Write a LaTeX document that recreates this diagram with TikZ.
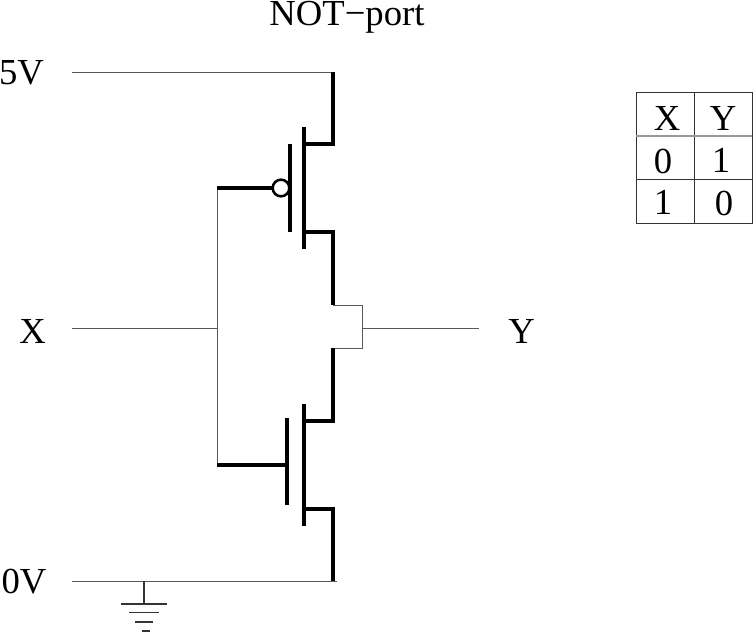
\documentclass[tikz,border=0pt]{standalone}
\usepackage{fontspec}
\setmainfont{Liberation Serif}
\tikzset{
  wire/.style={line width=0.75pt,draw=black!65},
  fet/.style={line width=2.4pt,draw=black,line cap=butt},
  gnd/.style={line width=0.9pt,draw=black!80},
  cell/.style={line width=0.75pt,draw=black!80},
  lbl/.style={inner sep=0pt,anchor=base,font=\fontsize{27.5}{27.5}\selectfont},
  bubble/.style={circle,draw=black,fill=white,line width=1.9pt,minimum size=12.5pt,inner sep=0pt}
}
\begin{document}
\begin{tikzpicture}[x=0.75pt,y=-0.75pt]
\useasboundingbox (0,0) rectangle (753,632);
% labels
\node[lbl] (title) at (347,25) {NOT−port};
\node[lbl] (five) at (21.5,84) {5V};
\node[lbl] (xin) at (32.5,343) {X};
\node[lbl] (yout) at (521.5,343) {Y};
\node[lbl] (zero) at (24,593) {0V};
% junction and terminal points
\coordinate (vddL) at (72,72);
\coordinate (vddR) at (333,72);
\coordinate (gndL) at (72,581);
\coordinate (gndR) at (333,581);
\coordinate (inL) at (72,328);
\coordinate (inJ) at (217,328);
\coordinate (pG) at (217,188);
\coordinate (nG) at (217,465);
\coordinate (pS) at (333,144);
\coordinate (pD) at (333,232);
\coordinate (pDo) at (333,305);
\coordinate (oT) at (362,305);
\coordinate (oB) at (362,348);
\coordinate (oM) at (362,328);
\coordinate (nDo) at (333,348);
\coordinate (nD) at (333,421);
\coordinate (nS) at (333,509);
\coordinate (outR) at (479,328);
\coordinate (pChT) at (304,127);
\coordinate (pChB) at (304,249);
\coordinate (pGT) at (290,144);
\coordinate (pGB) at (290,232);
\coordinate (nChT) at (304,404);
\coordinate (nChB) at (304,526);
\coordinate (nGT) at (287,418);
\coordinate (nGB) at (287,505);
\coordinate (gT) at (144,581);
\coordinate (g1L) at (121,604);
\coordinate (g1R) at (167,604);
\coordinate (g2L) at (129,612.5);
\coordinate (g2R) at (159,612.5);
\coordinate (g3L) at (135,622);
\coordinate (g3R) at (153,622);
\coordinate (g4L) at (141.5,631);
\coordinate (g4R) at (150,631);
\coordinate (g1M) at (144,604);
% thin wires
\draw[wire] (vddL) -- (vddR);
\draw[wire] (gndL) -- ([xshift=3pt]gndR);
\draw[wire] (inL) -- (inJ);
\draw[wire] (pG) -- (nG);
\draw[wire] (pDo) -- (oT) -- (oB) -- (nDo);
\draw[wire] (oM) -- (outR);
% PMOS
\draw[fet] (vddR) -- (pS) -- (pS -| pChT);
\draw[fet] (pChT) -- (pChB);
\draw[fet] (pGT) -- (pGB);
\draw[fet] (pChB |- pD) -- (pD) -- (pDo);
\draw[fet] (pG) -- (281,188);
\node[bubble] (pB) at (281,188) {};
% NMOS
\draw[fet] (nDo) -- (nD) -- (nD -| nChT);
\draw[fet] (nChT) -- (nChB);
\draw[fet] (nGT) -- (nGB);
\draw[fet] (nG) -- (nG -| nGT);
\draw[fet] (nChB |- nS) -- (nS) -- (gndR);
% ground
\draw[gnd] (gT) -- (g1M);
\draw[gnd] (g1L) -- (g1R);
\draw[gnd] (g2L) -- (g2R);
\draw[gnd] (g3L) -- (g3R);
\draw[gnd] (g4L) -- (g4R);
% table
\draw[cell] (636,92) rectangle (752,223);
\draw[cell] (694,92) -- (694,223);
\draw[cell,draw=black!40,line width=1pt] (636,136) -- (752,136);
\draw[cell] (636,179) -- (752,179);
\node[lbl] (tx) at (667,130) {X};
\node[lbl] (ty) at (723,130) {Y};
\node[lbl] (t01) at (663,173) {0};
\node[lbl] (t11) at (721,172) {1};
\node[lbl] (t10) at (663,214) {1};
\node[lbl] (t00) at (724,215) {0};
\end{tikzpicture}
\end{document}
